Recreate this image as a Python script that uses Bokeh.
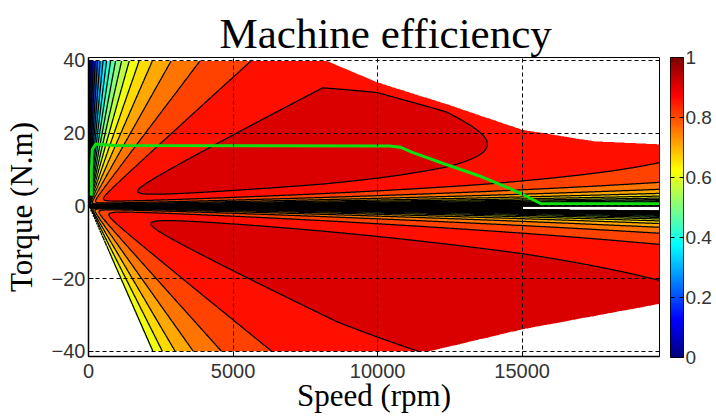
import numpy as np
from bokeh.plotting import figure
from bokeh.layouts import row
from bokeh.models import (Range1d, LinearColorMapper, FixedTicker,
                          CustomJSTickFormatter, Title, LinearAxis)
from bokeh.embed import file_html
from bokeh.resources import INLINE

# ---- operating envelope (rpm, N.m) ----
top_speed = [0, 8200, 10000, 12400, 15000, 17500, 19750]
top_torque = [40, 40, 34, 28, 21, 17.8, 17]
bot_speed = [0, 2170, 11800, 15000, 19750]
bot_torque = [0, -40, -40, -34, -27]
blank_from_speed = 15000      # beyond this speed the loss region near 0 N.m is left blank

# ---- loss model parameters fitted to the contours of the picture ----
cu_speed = [0, 8100, 10000, 12400, 13800, 15000, 19650]      # rpm
cu_motor = [2.45, 2.45, 3.0, 3.95, 4.73, 6.0, 9.9]           # copper-loss coefficient, motoring
cu_gen_speed = [0, 8600, 15000, 19650]
cu_gen = [2.3, 2.3, 2.55, 3.1]                               # copper-loss coefficient, generating
spd_loss = [0.15, 4.0e-4, 1.03e-7]                           # speed-loss coefficients

# ---- contour levels and ticks ----
levels = [-0.5, 0.0, 0.05, 0.1, 0.15, 0.2, 0.25, 0.3, 0.35, 0.4, 0.45, 0.5,
          0.55, 0.6, 0.65, 0.7, 0.75, 0.8, 0.85, 0.9, 0.95, 1.0]
cbar_ticks = [0, 0.2, 0.4, 0.6, 0.8, 1]
x_ticks = [0, 5000, 10000, 15000]
y_ticks = [-40, -20, 0, 20, 40]

# ---- green trajectory (rpm, N.m) ----
traj_speed = [100, 100, 130, 250, 900, 10400, 10800, 11200, 12300, 13500, 14600, 15100, 15650, 19750]
traj_torque = [2.8, 10, 15.5, 17.0, 16.6, 16.5, 16.1, 14.7, 11.6, 8.3, 4.7, 2.8, 0.6, 0.6]


def jet(v):
    v = np.atleast_1d(np.asarray(v, dtype=float))
    r = np.clip(1.5 - np.abs(4 * v - 3), 0, 1)
    g = np.clip(1.5 - np.abs(4 * v - 2), 0, 1)
    b = np.clip(1.5 - np.abs(4 * v - 1), 0, 1)
    return ["#%02x%02x%02x" % (int(round(a * 255)), int(round(c * 255)), int(round(d * 255)))
            for a, c, d in zip(r, g, b)]


# ---- efficiency field from the loss model ----
n = np.linspace(0, 19750, 500)
t = np.linspace(-41.4, 40.8, 620)
N, T = np.meshgrid(n, t)
W = np.maximum(N * 2 * np.pi / 60, 1e-6)
bc = spd_loss[0] + spd_loss[1] * W + spd_loss[2] * W ** 2
a_m = np.interp(N, cu_speed, cu_motor)
a_g = np.interp(N, cu_gen_speed, cu_gen)
P = np.abs(T) * W
with np.errstate(divide="ignore", invalid="ignore"):
    eta_m = P / (P + a_m * T ** 2 + bc * W)
    eta_g = (P - a_g * T ** 2 - bc * W) / P
eta = np.where(T >= 0, eta_m, eta_g)
eta = np.nan_to_num(eta, nan=-0.4, neginf=-0.4)
eta = np.clip(eta, -0.4, 0.999)
eta[(eta < 0) & (N >= blank_from_speed)] = -0.9
tmax = np.interp(N, top_speed, top_torque)
tmin = np.interp(N, bot_speed, bot_torque)
eta[(T > tmax) | (T < tmin)] = np.nan

fill_colors = ["#000000"] + jet(np.array(levels[1:-1]) + 0.01)

# ---------------- main map ----------------
p = figure(frame_width=571, frame_height=299,
           x_range=Range1d(0, 19750), y_range=Range1d(-41.4, 40.8),
           output_backend="svg", toolbar_location=None,
           min_border_left=84, min_border_right=11, min_border_top=57, min_border_bottom=58)
p.title = Title(text="Machine efficiency", align="left", offset=131,
                text_font="Liberation Serif", text_font_size="43px",
                text_font_style="normal", text_color="black", standoff=2)

p.contour(n, t, eta, levels=levels, fill_color=fill_colors, line_color="black", line_width=1.25)
p.line(traj_speed, traj_torque, line_color="#10e010", line_width=3)

for ax in (p.xaxis, p.yaxis):
    ax.major_tick_in = 5
    ax.major_tick_out = 0
    ax.minor_tick_line_color = None
    ax.axis_line_color = "black"
    ax.axis_line_width = 1.5
    ax.major_tick_line_color = "black"
    ax.major_label_text_font = "Liberation Sans"
    ax.major_label_text_font_size = "20px"
    ax.major_label_text_color = "#333333"
    ax.axis_label_text_font = "Liberation Serif"
    ax.axis_label_text_font_size = "31px"
    ax.axis_label_text_font_style = "normal"
    ax.axis_label_text_color = "black"
p.xaxis.ticker = FixedTicker(ticks=x_ticks)
p.yaxis.ticker = FixedTicker(ticks=y_ticks)
p.xaxis.axis_label = "Speed (rpm)"
p.yaxis.axis_label = "Torque (N.m)"
p.xaxis.major_label_standoff = 7
p.yaxis.major_label_standoff = 3
p.xaxis.axis_label_standoff = -3
p.yaxis.axis_label_standoff = 10

for g in (p.xgrid, p.ygrid):
    g.grid_line_color = "black"
    g.grid_line_dash = "4 3"
    g.grid_line_width = 1
    g.level = "overlay"
p.xgrid.ticker = FixedTicker(ticks=x_ticks)
p.ygrid.ticker = FixedTicker(ticks=y_ticks)

p.outline_line_color = "black"
p.outline_line_width = 1
p.background_fill_color = "white"

# ---------------- colour bar ----------------
mapper = LinearColorMapper(palette=jet(np.linspace(0, 1, 256)), low=0, high=1)
cb = figure(frame_width=13, frame_height=300, x_range=Range1d(0, 1), y_range=Range1d(0, 1),
            output_backend="svg", toolbar_location=None,
            x_axis_location=None, y_axis_location="right",
            min_border_left=0, min_border_right=0, min_border_top=56, min_border_bottom=30)
gradient = np.linspace(0, 1, 256).reshape(256, 1)
cb.image(image=[gradient], x=0, y=0, dw=1, dh=1, color_mapper=mapper)
cb.grid.visible = False
cb.outline_line_color = "black"
cb.outline_line_width = 1
cb.yaxis.ticker = FixedTicker(ticks=cbar_ticks)
cb.yaxis.formatter = CustomJSTickFormatter(code="return tick.toString()")
cb.yaxis.major_tick_in = 4
cb.yaxis.major_tick_out = 0
cb.yaxis.minor_tick_line_color = None
cb.yaxis.axis_line_color = None
cb.yaxis.major_tick_line_color = "black"
cb.yaxis.major_label_standoff = 2
cb.yaxis.major_label_text_font = "Liberation Sans"
cb.yaxis.major_label_text_font_size = "19px"
cb.yaxis.major_label_text_color = "#333333"
cb_left = LinearAxis(ticker=FixedTicker(ticks=cbar_ticks),
                     formatter=CustomJSTickFormatter(code="return ''"),
                     major_tick_in=4, major_tick_out=0, major_label_standoff=0,
                     minor_tick_line_color=None, axis_line_color=None,
                     major_tick_line_color="black")
cb.add_layout(cb_left, "left")

layout = row(p, cb)
open("out.html", "w").write(file_html(layout, INLINE))
